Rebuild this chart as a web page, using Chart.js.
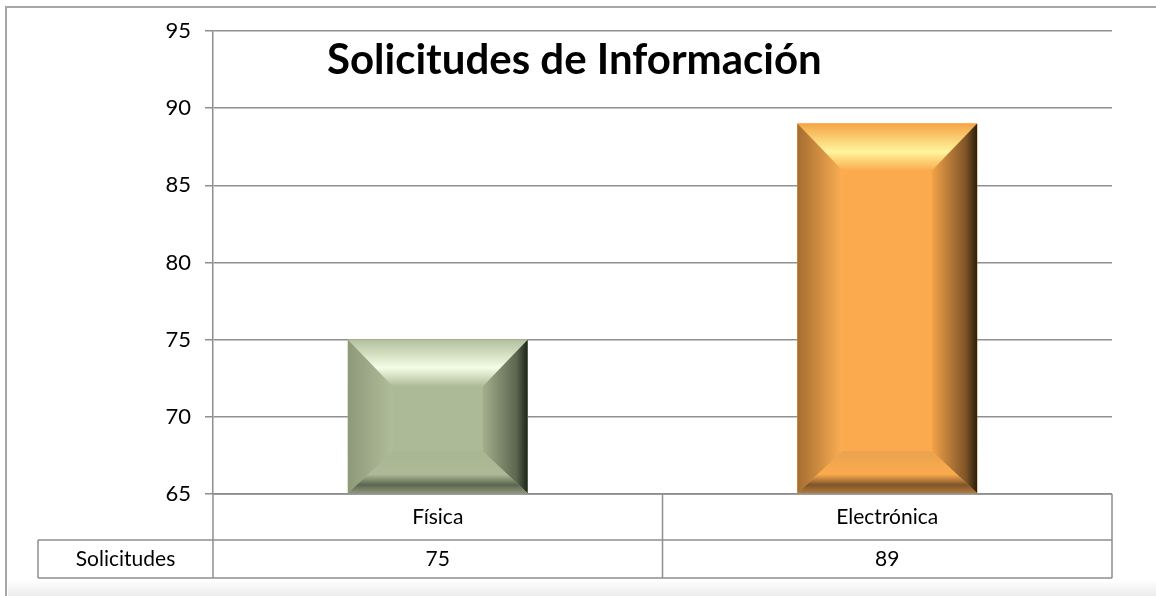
<!DOCTYPE html>
<html>
<head>
<meta charset="utf-8">
<script src="https://cdn.jsdelivr.net/npm/chart.js@4"></script>
<style>
  html, body { margin: 0; padding: 0; background: #fff; }
  #wrap { width: 1156px; height: 596px; }
</style>
</head>
<body>
<div id="wrap"><canvas id="chart" width="1156" height="596"></canvas></div>
<script>
// datos del gráfico
var categorias = ['Física', 'Electrónica'];
var serieNombre = 'Solicitudes';
var valores = [75, 89];
var ejeMin = 65, ejeMax = 95, ejePaso = 5;
var titulo = 'Solicitudes de Información';

// colores del bisel (frente, luz superior, lados, sombra)
var estilos = [
  { front: '#adba97', topEdge: '#b3c09d', light: '#f4fde6', leftA: '#8e997a', leftB: '#b0bd9a',
    rightA: '#a3af8c', rightB: '#1f2419', botA: '#a9b693', botB: '#5c6650', botC: '#8d9878' },
  { front: '#fbab4d', topEdge: '#f5a446', light: '#fff59c', leftA: '#a46d30', leftB: '#fcae52',
    rightA: '#f2a247', rightB: '#2b1e0b', botA: '#eaa350', botB: '#7e5428', botC: '#b27b3e' }
];

var fuente = 'Lato, "Noto Sans", sans-serif';

// marco exterior
var marco = {
  id: 'marco',
  beforeDraw: function(chart) {
    var ctx = chart.ctx;
    ctx.save();
    ctx.fillStyle = '#fff';
    ctx.fillRect(0, 0, chart.width, chart.height);
    var g = ctx.createLinearGradient(0, 580, 0, 596);
    g.addColorStop(0, '#ffffff');
    g.addColorStop(1, '#ececec');
    ctx.fillStyle = g;
    ctx.fillRect(8, 580, chart.width - 8, 16);
    ctx.strokeStyle = '#a6a6a6';
    ctx.lineWidth = 2;
    ctx.beginPath();
    ctx.moveTo(6, chart.height);
    ctx.lineTo(6, 7);
    ctx.lineTo(chart.width, 7);
    ctx.stroke();
    ctx.restore();
  }
};

// barras con bisel
var bisel = {
  id: 'bisel',
  afterDatasetsDraw: function(chart) {
    var ctx = chart.ctx;
    var meta = chart.getDatasetMeta(0);
    meta.data.forEach(function(bar, i) {
      var s = estilos[i];
      var L = bar.x - bar.width / 2, R = bar.x + bar.width / 2;
      var T = bar.y, B = bar.base;
      var b = 45, bt = 47, bb = 42;
      ctx.save();
      ctx.fillStyle = s.front;
      ctx.fillRect(L, T, R - L, B - T);

      // arriba
      var g = ctx.createLinearGradient(0, T, 0, T + bt);
      g.addColorStop(0, s.topEdge);
      g.addColorStop(0.6, s.light);
      g.addColorStop(1, s.front);
      ctx.fillStyle = g;
      ctx.beginPath();
      ctx.moveTo(L, T); ctx.lineTo(R, T); ctx.lineTo(R - b, T + bt); ctx.lineTo(L + b, T + bt);
      ctx.closePath(); ctx.fill();

      // izquierda
      g = ctx.createLinearGradient(L, 0, L + b, 0);
      g.addColorStop(0, s.leftA);
      g.addColorStop(1, s.leftB);
      ctx.fillStyle = g;
      ctx.beginPath();
      ctx.moveTo(L, T); ctx.lineTo(L + b, T + bt); ctx.lineTo(L + b, B - bb); ctx.lineTo(L, B);
      ctx.closePath(); ctx.fill();

      // derecha
      g = ctx.createLinearGradient(R - b, 0, R, 0);
      g.addColorStop(0, s.rightA);
      g.addColorStop(0.75, s.botB);
      g.addColorStop(1, s.rightB);
      ctx.fillStyle = g;
      ctx.beginPath();
      ctx.moveTo(R, T); ctx.lineTo(R - b, T + bt); ctx.lineTo(R - b, B - bb); ctx.lineTo(R, B);
      ctx.closePath(); ctx.fill();

      // abajo
      g = ctx.createLinearGradient(0, B - bb, 0, B);
      g.addColorStop(0, s.botA);
      g.addColorStop(0.55, s.front);
      g.addColorStop(0.8, s.botB);
      g.addColorStop(1, s.botC);
      ctx.fillStyle = g;
      ctx.beginPath();
      ctx.moveTo(L, B); ctx.lineTo(L + b, B - bb); ctx.lineTo(R - b, B - bb); ctx.lineTo(R, B);
      ctx.closePath(); ctx.fill();
      ctx.restore();
    });
  }
};

// tabla de datos y título
var tabla = {
  id: 'tabla',
  afterDraw: function(chart) {
    var ctx = chart.ctx;
    var area = chart.chartArea;
    var x = chart.scales.x;
    var y0 = area.bottom, y1 = y0 + 46, y2 = y1 + 38;
    var izq = 38;
    var ancho = x.getPixelForValue(1) - x.getPixelForValue(0);
    var bordes = [area.left];
    for (var i = 0; i < categorias.length; i++) {
      bordes.push(x.getPixelForValue(i) + ancho / 2);
    }
    ctx.save();
    ctx.strokeStyle = '#8f8f8f';
    ctx.lineWidth = 1.5;
    ctx.beginPath();
    ctx.moveTo(area.left, y0); ctx.lineTo(area.right, y0);
    ctx.moveTo(izq, y1); ctx.lineTo(area.right, y1);
    ctx.moveTo(izq, y2); ctx.lineTo(area.right, y2);
    ctx.moveTo(izq, y1); ctx.lineTo(izq, y2);
    bordes.forEach(function(bx) { ctx.moveTo(bx, y0); ctx.lineTo(bx, y2); });
    ctx.stroke();

    ctx.fillStyle = '#000';
    ctx.font = '21px ' + fuente;
    ctx.textAlign = 'center';
    ctx.textBaseline = 'middle';
    categorias.forEach(function(c, i) {
      ctx.fillText(c, x.getPixelForValue(i), (y0 + y1) / 2);
      ctx.fillText(String(valores[i]), x.getPixelForValue(i), (y1 + y2) / 2);
    });
    ctx.fillText(serieNombre, (izq + area.left) / 2, (y1 + y2) / 2);

    ctx.font = 'bold 42px ' + fuente;
    ctx.textAlign = 'left';
    ctx.textBaseline = 'alphabetic';
    ctx.fillText(titulo, 327, 74);
    ctx.restore();
  }
};

var ctx = document.getElementById('chart').getContext('2d');
var myChart = new Chart(ctx, {
  type: 'bar',
  data: {
    labels: categorias,
    datasets: [{
      label: serieNombre,
      data: valores,
      base: ejeMin,
      backgroundColor: estilos.map(function(s) { return s.front; }),
      categoryPercentage: 1,
      barPercentage: 0.4
    }]
  },
  options: {
    responsive: false,
    animation: false,
    layout: { padding: { left: 0, top: 31, right: 44, bottom: 0 } },
    plugins: {
      legend: { display: false },
      title: { display: false },
      tooltip: { enabled: false }
    },
    scales: {
      x: {
        ticks: { display: false },
        grid: { display: false },
        border: { display: false },
        afterFit: function(scale) { scale.height = 102; }
      },
      y: {
        min: ejeMin,
        max: ejeMax,
        ticks: { stepSize: ejePaso, color: '#000', padding: 14, font: { family: fuente, size: 22 } },
        grid: { color: '#8f8f8f', lineWidth: 1.5, tickLength: 8 },
        border: { color: '#8f8f8f', width: 1.5 },
        afterFit: function(scale) { scale.width = 213; }
      }
    }
  },
  plugins: [marco, bisel, tabla]
});
</script>
</body>
</html>
